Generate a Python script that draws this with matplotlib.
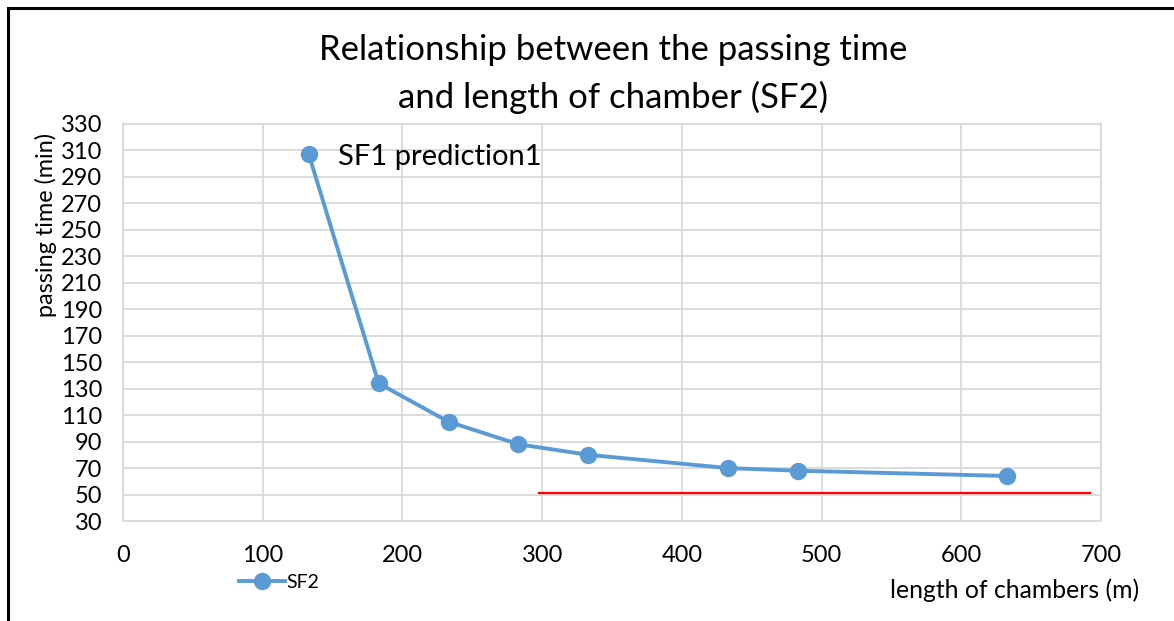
import matplotlib
matplotlib.use("Agg")
import matplotlib.pyplot as plt
from matplotlib.lines import Line2D

plt.rcParams['font.family'] = ['Lato', 'DejaVu Sans']

# Chamber length (m) vs passing time (min), series SF2
length_m = [133, 183, 233, 283, 333, 433, 483, 633]
passing_min = [307, 134, 105, 88, 80, 70, 68, 64]

# Reference limit line
limit_x = [298, 692]
limit_y = [51, 51]

x_ticks = list(range(0, 701, 100))
y_ticks = list(range(30, 331, 20))

blue = '#5B9BD5'
grid_c = '#D9D9D9'

fig = plt.figure(figsize=(11.74, 6.21), dpi=100)
fig.patch.set_facecolor('white')
ax = fig.add_axes([123 / 1174, 1 - 521 / 621, (1101 - 123) / 1174, (521 - 124) / 621])

ax.plot(length_m, passing_min, color=blue, lw=2.8, marker='o', ms=11.5,
        markerfacecolor=blue, markeredgecolor=blue, zorder=3, clip_on=False)
ax.plot(limit_x, limit_y, color='#FF0000', lw=1.6, zorder=2)

ax.set_xlim(0, 700)
ax.set_ylim(30, 330)
ax.set_xticks(x_ticks)
ax.set_yticks(y_ticks)
ax.grid(True, color=grid_c, lw=1.3)
ax.set_axisbelow(True)
for s in ax.spines.values():
    s.set_color(grid_c)
    s.set_linewidth(1.3)
ax.tick_params(axis='both', length=0, labelsize=17, colors='black')
ax.tick_params(axis='x', pad=17)
ax.tick_params(axis='y', pad=15)

ax.annotate('SF1 prediction1', xy=(length_m[0], passing_min[0]),
            xytext=(338 / 1174, 1 - 157 / 621), textcoords='figure fraction',
            fontsize=21, va='center', ha='left')

fig.text(613 / 1174, 1 - 50 / 621, 'Relationship between the passing time',
         fontsize=25, ha='center', va='center')
fig.text(613 / 1174, 1 - 97 / 621, 'and length of chamber (SF2)',
         fontsize=25, ha='center', va='center')
fig.text(46 / 1174, 1 - 225 / 621, 'passing time (min)', rotation=90,
         fontsize=16.8, ha='center', va='center')
fig.text(1015 / 1174, 1 - 590 / 621, 'length of chambers (m)',
         fontsize=17.8, ha='center', va='center')

# Legend entry
handle = Line2D([0], [0], color=blue, lw=2.8, marker='o', ms=11.5,
                markerfacecolor=blue, markeredgecolor=blue)
fig.legend([handle], ['SF2'], loc='center', bbox_to_anchor=(279 / 1174, 1 - 582 / 621),
           frameon=False, fontsize=14, handlelength=2.4, handletextpad=0.05)

# Outer frame (top and left edges)
fig.add_artist(Line2D([7.5 / 1174, 1.0], [1 - 7.5 / 621, 1 - 7.5 / 621], color='black', lw=2.2,
                      transform=fig.transFigure))
fig.add_artist(Line2D([7.5 / 1174, 7.5 / 1174], [0, 1 - 7.5 / 621], color='black', lw=2.2,
                      transform=fig.transFigure))

fig.savefig('out.png', dpi=100, facecolor='white')
